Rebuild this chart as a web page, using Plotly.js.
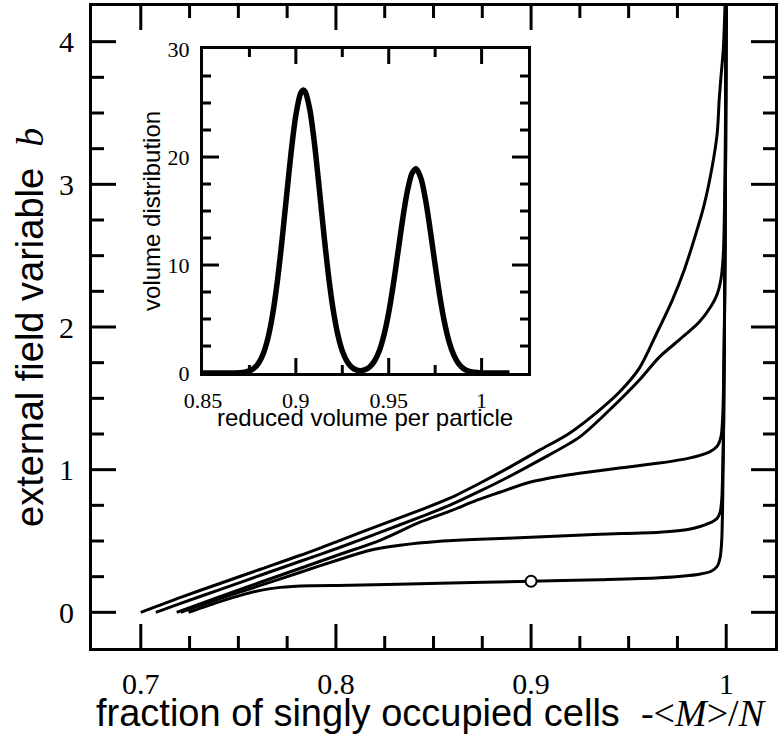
<!DOCTYPE html>
<html>
<head>
<meta charset="utf-8">
<script src="https://cdn.plot.ly/plotly-3.0.1.min.js"></script>
<style>html,body{margin:0;padding:0;background:#fff;}#chart{width:778px;height:736px;}</style>
</head>
<body>
<div id="chart"></div>
<script>
// ---- main panel: field variable b vs fraction of singly occupied cells ----
const xA = [0.7000,0.7204,0.7409,0.7613,0.7818,0.8022,0.8226,0.8431,0.8584,0.8737,0.8891,0.9044,0.9197,0.9351,0.9453,0.9555,0.9647,0.9724,0.9785,0.9846,0.9887,0.9928,0.9954,0.9964,0.9974,0.9985,0.9995];
const bA = [0,0.105,0.204,0.302,0.400,0.505,0.611,0.716,0.800,0.905,1.018,1.137,1.256,1.418,1.544,1.712,1.965,2.189,2.400,2.660,2.856,3.123,3.361,3.593,3.768,3.944,4.300];

const xB = [0.7077,0.7204,0.7409,0.7613,0.7818,0.8022,0.8226,0.8431,0.8584,0.8737,0.8891,0.9044,0.9248,0.9402,0.9555,0.9657,0.9759,0.9862,0.9923,0.9954,0.9974,0.9985,0.9992,0.9997,1.0000];
const bB = [0,0.063,0.161,0.260,0.358,0.456,0.561,0.667,0.751,0.849,0.954,1.067,1.228,1.418,1.628,1.789,1.909,2.035,2.147,2.232,2.344,2.505,2.891,3.593,4.300];

const xC = [0.7184,0.7409,0.7613,0.7818,0.8022,0.8226,0.8431,0.8584,0.8722,0.8840,0.8993,0.9146,0.9248,0.9453,0.9657,0.9810,0.9913,0.9954,0.9974,0.9981,0.9986,0.9992,0.9997,1.0000];
const bC = [0,0.112,0.211,0.309,0.407,0.505,0.632,0.709,0.786,0.842,0.912,0.954,0.975,1.011,1.046,1.081,1.123,1.165,1.235,1.347,1.558,2.189,3.242,4.300];

const xD = [0.7204,0.7409,0.7613,0.7818,0.8022,0.8175,0.8329,0.8533,0.8737,0.8998,0.9351,0.9657,0.9810,0.9913,0.9954,0.9969,0.9977,0.9982,0.9987,0.9992,0.9997,1.0000];
const bD = [0,0.098,0.189,0.281,0.372,0.435,0.470,0.498,0.512,0.526,0.547,0.561,0.582,0.625,0.660,0.702,0.786,0.996,1.347,2.189,3.242,4.300];

const xE = [0.7245,0.7409,0.7511,0.7613,0.7715,0.7869,0.8073,0.8533,0.8998,0.9351,0.9657,0.9862,0.9923,0.9954,0.9969,0.9977,0.9982,0.9987,0.9992,0.9997,1.0000];
const bE = [0,0.077,0.119,0.154,0.175,0.186,0.189,0.204,0.218,0.228,0.242,0.267,0.288,0.323,0.386,0.505,0.786,1.347,2.189,3.242,4.300];

const markX = [0.9];
const markB = [0.218];

// ---- inset: volume distribution vs reduced volume per particle ----
const vInset = [0.850,0.860,0.870,0.8725,0.875,0.8775,0.880,0.8825,0.885,0.8875,0.890,0.8925,0.895,0.8975,0.900,0.9025,0.904,0.905,0.9075,0.910,0.9125,0.915,0.9175,0.920,0.9225,0.925,0.9275,0.930,0.9325,0.935,0.9375,0.940,0.9425,0.945,0.9475,0.950,0.9525,0.955,0.9575,0.960,0.9625,0.9645,0.965,0.9675,0.970,0.9725,0.975,0.9775,0.980,0.9825,0.985,0.9875,0.990,0.9925,0.995,0.9975,1.000,1.005,1.015];
const pInset = [0,0,0.03,0.08,0.20,0.45,0.94,1.81,3.25,5.43,8.44,12.20,16.40,20.52,23.88,25.86,26.20,26.05,24.41,21.28,17.25,13.02,9.14,5.96,3.62,2.05,1.09,0.55,0.29,0.22,0.32,0.60,1.16,2.10,3.56,5.61,8.22,11.22,14.24,16.81,18.47,18.90,18.87,17.94,15.87,13.05,9.99,7.12,4.71,2.90,1.67,0.89,0.44,0.20,0.09,0.04,0.01,0,0];

// tick positions (interior of each frame)
const mainXMajor = [0.7,0.8,0.9,1.0];
const mainXMinor = [0.725,0.75,0.775,0.825,0.85,0.875,0.925,0.95,0.975];
const mainYMajor = [0,1,2,3,4];
const mainYMinor = [0.25,0.5,0.75,1.25,1.5,1.75,2.25,2.5,2.75,3.25,3.5,3.75];
const insXMajor = [0.9,0.95,1.0];
const insXMinor = [0.875,0.925,0.975];
const insYMajor = [10,20];
const insYMinor = [2.5,5,7.5,12.5,15,17.5,22.5,25,27.5];

// geometry
const W = 778, H = 736, M = {l:92, r:3, t:6, b:88};
const mainXRange = [0.675,1.025], mainYRange = [-0.25,4.25];
const insXRange = [0.85,1.025], insYRange = [0,30];
const insXDom = [0.1625,0.6384], insYDom = [0.4283,0.9330];
const plotW = W - M.l - M.r, plotH = H - M.t - M.b;

const lineStyle = {color:'#000', width:3, shape:'spline', smoothing:0.8};
function curve(x, y){
  return {x:x, y:y, type:'scatter', mode:'lines', line:lineStyle, xaxis:'x', yaxis:'y', hoverinfo:'skip', showlegend:false};
}

// tick marks drawn as line traces, lengths converted from pixels through each axis scale
function tickTraces(xMaj, xMin, yMaj, yMin, xr, yr, wPx, hPx, majLenX, minLenX, majLenY, minLenY, xa, ya){
  const ux = (xr[1]-xr[0])/wPx, uy = (yr[1]-yr[0])/hPx;
  const out = [];
  function xt(vals, len){
    const xs = [], ys = [];
    vals.forEach(function(v){
      xs.push(v, v, null, v, v, null);
      ys.push(yr[0], yr[0]+len*uy, null, yr[1], yr[1]-len*uy, null);
    });
    return {x:xs, y:ys};
  }
  function yt(vals, len){
    const xs = [], ys = [];
    vals.forEach(function(v){
      xs.push(xr[0], xr[0]+len*ux, null, xr[1], xr[1]-len*ux, null);
      ys.push(v, v, null, v, v, null);
    });
    return {x:xs, y:ys};
  }
  [xt(xMaj, majLenX), xt(xMin, minLenX), yt(yMaj, majLenY), yt(yMin, minLenY)].forEach(function(s){
    out.push({x:s.x, y:s.y, type:'scatter', mode:'lines', line:{color:'#000', width:3}, connectgaps:false, xaxis:xa, yaxis:ya, hoverinfo:'skip', showlegend:false});
  });
  return out;
}

const mainTicks = tickTraces(mainXMajor, mainXMinor, mainYMajor, mainYMinor, mainXRange, mainYRange, plotW, plotH, 24, 12, 24, 12, 'x', 'y');
const insTicks = tickTraces(insXMajor, insXMinor, insYMajor, insYMinor, insXRange, insYRange,
  plotW*(insXDom[1]-insXDom[0]), plotH*(insYDom[1]-insYDom[0]), 15, 8, 16, 8, 'x2', 'y2');

const data = [
  curve(xA,bA), curve(xB,bB), curve(xC,bC), curve(xD,bD), curve(xE,bE),
  {x:markX, y:markB, type:'scatter', mode:'markers', marker:{size:11, color:'#fff', line:{color:'#000', width:2}}, xaxis:'x', yaxis:'y', showlegend:false, hoverinfo:'skip'}
].concat(mainTicks).concat(insTicks).concat([
  {x:vInset, y:pInset, type:'scatter', mode:'lines', line:{color:'#000', width:5.5, shape:'spline', smoothing:0.8}, xaxis:'x2', yaxis:'y2', showlegend:false, hoverinfo:'skip'}
]);

const serif = 'Liberation Serif, Times New Roman, serif';
const sans = 'Liberation Sans, Arial, sans-serif';

function axisBase(extra){
  return Object.assign({
    showgrid:false, zeroline:false, showline:true, linecolor:'#000', linewidth:3,
    mirror:true, ticks:'', fixedrange:true,
    tickfont:{family:serif, size:30, color:'#000'}
  }, extra);
}

const layout = {
  width:W, height:H,
  margin:M,
  paper_bgcolor:'#fff', plot_bgcolor:'#fff',
  showlegend:false,
  xaxis: axisBase({range:mainXRange, tickmode:'linear', tick0:0.7, dtick:0.1, ticklabelstandoff:7, domain:[0,1]}),
  yaxis: axisBase({range:mainYRange, tickmode:'linear', tick0:0, dtick:1, ticklabelstandoff:9, domain:[0,1]}),
  xaxis2: axisBase({anchor:'y2', domain:insXDom, range:insXRange, tickmode:'linear', tick0:0.85, dtick:0.05,
    tickfont:{family:serif, size:22, color:'#000'}, ticklabelstandoff:6}),
  yaxis2: axisBase({anchor:'x2', domain:insYDom, range:insYRange, tickmode:'linear', tick0:0, dtick:10,
    tickfont:{family:serif, size:22, color:'#000'}, ticklabelstandoff:6}),
  annotations:[
    {xref:'paper', yref:'paper', x:0.4978, y:-0.1012, xanchor:'center', yanchor:'middle', showarrow:false,
      text:'fraction of singly occupied cells&nbsp; <span style="font-family:Liberation Serif">-&lt;<i>M</i>&gt;/<i>N</i></span>',
      font:{family:sans, size:38, color:'#000'}},
    {xref:'paper', yref:'paper', x:-0.0908, y:0.5, xanchor:'center', yanchor:'middle', showarrow:false, textangle:-90,
      text:'external field variable&nbsp; <span style="font-family:Liberation Serif"><i>b</i></span>',
      font:{family:sans, size:38, color:'#000'}},
    {xref:'paper', yref:'paper', x:0.3997, y:0.3583, xanchor:'center', yanchor:'middle', showarrow:false,
      text:'reduced volume per particle', font:{family:sans, size:24, color:'#000'}},
    {xref:'paper', yref:'paper', x:0.0878, y:0.6807, xanchor:'center', yanchor:'middle', showarrow:false, textangle:-90,
      text:'volume distribution', font:{family:sans, size:24, color:'#000'}}
  ]
};

Plotly.newPlot('chart', data, layout, {displayModeBar:false, staticPlot:true});
</script>
</body>
</html>
